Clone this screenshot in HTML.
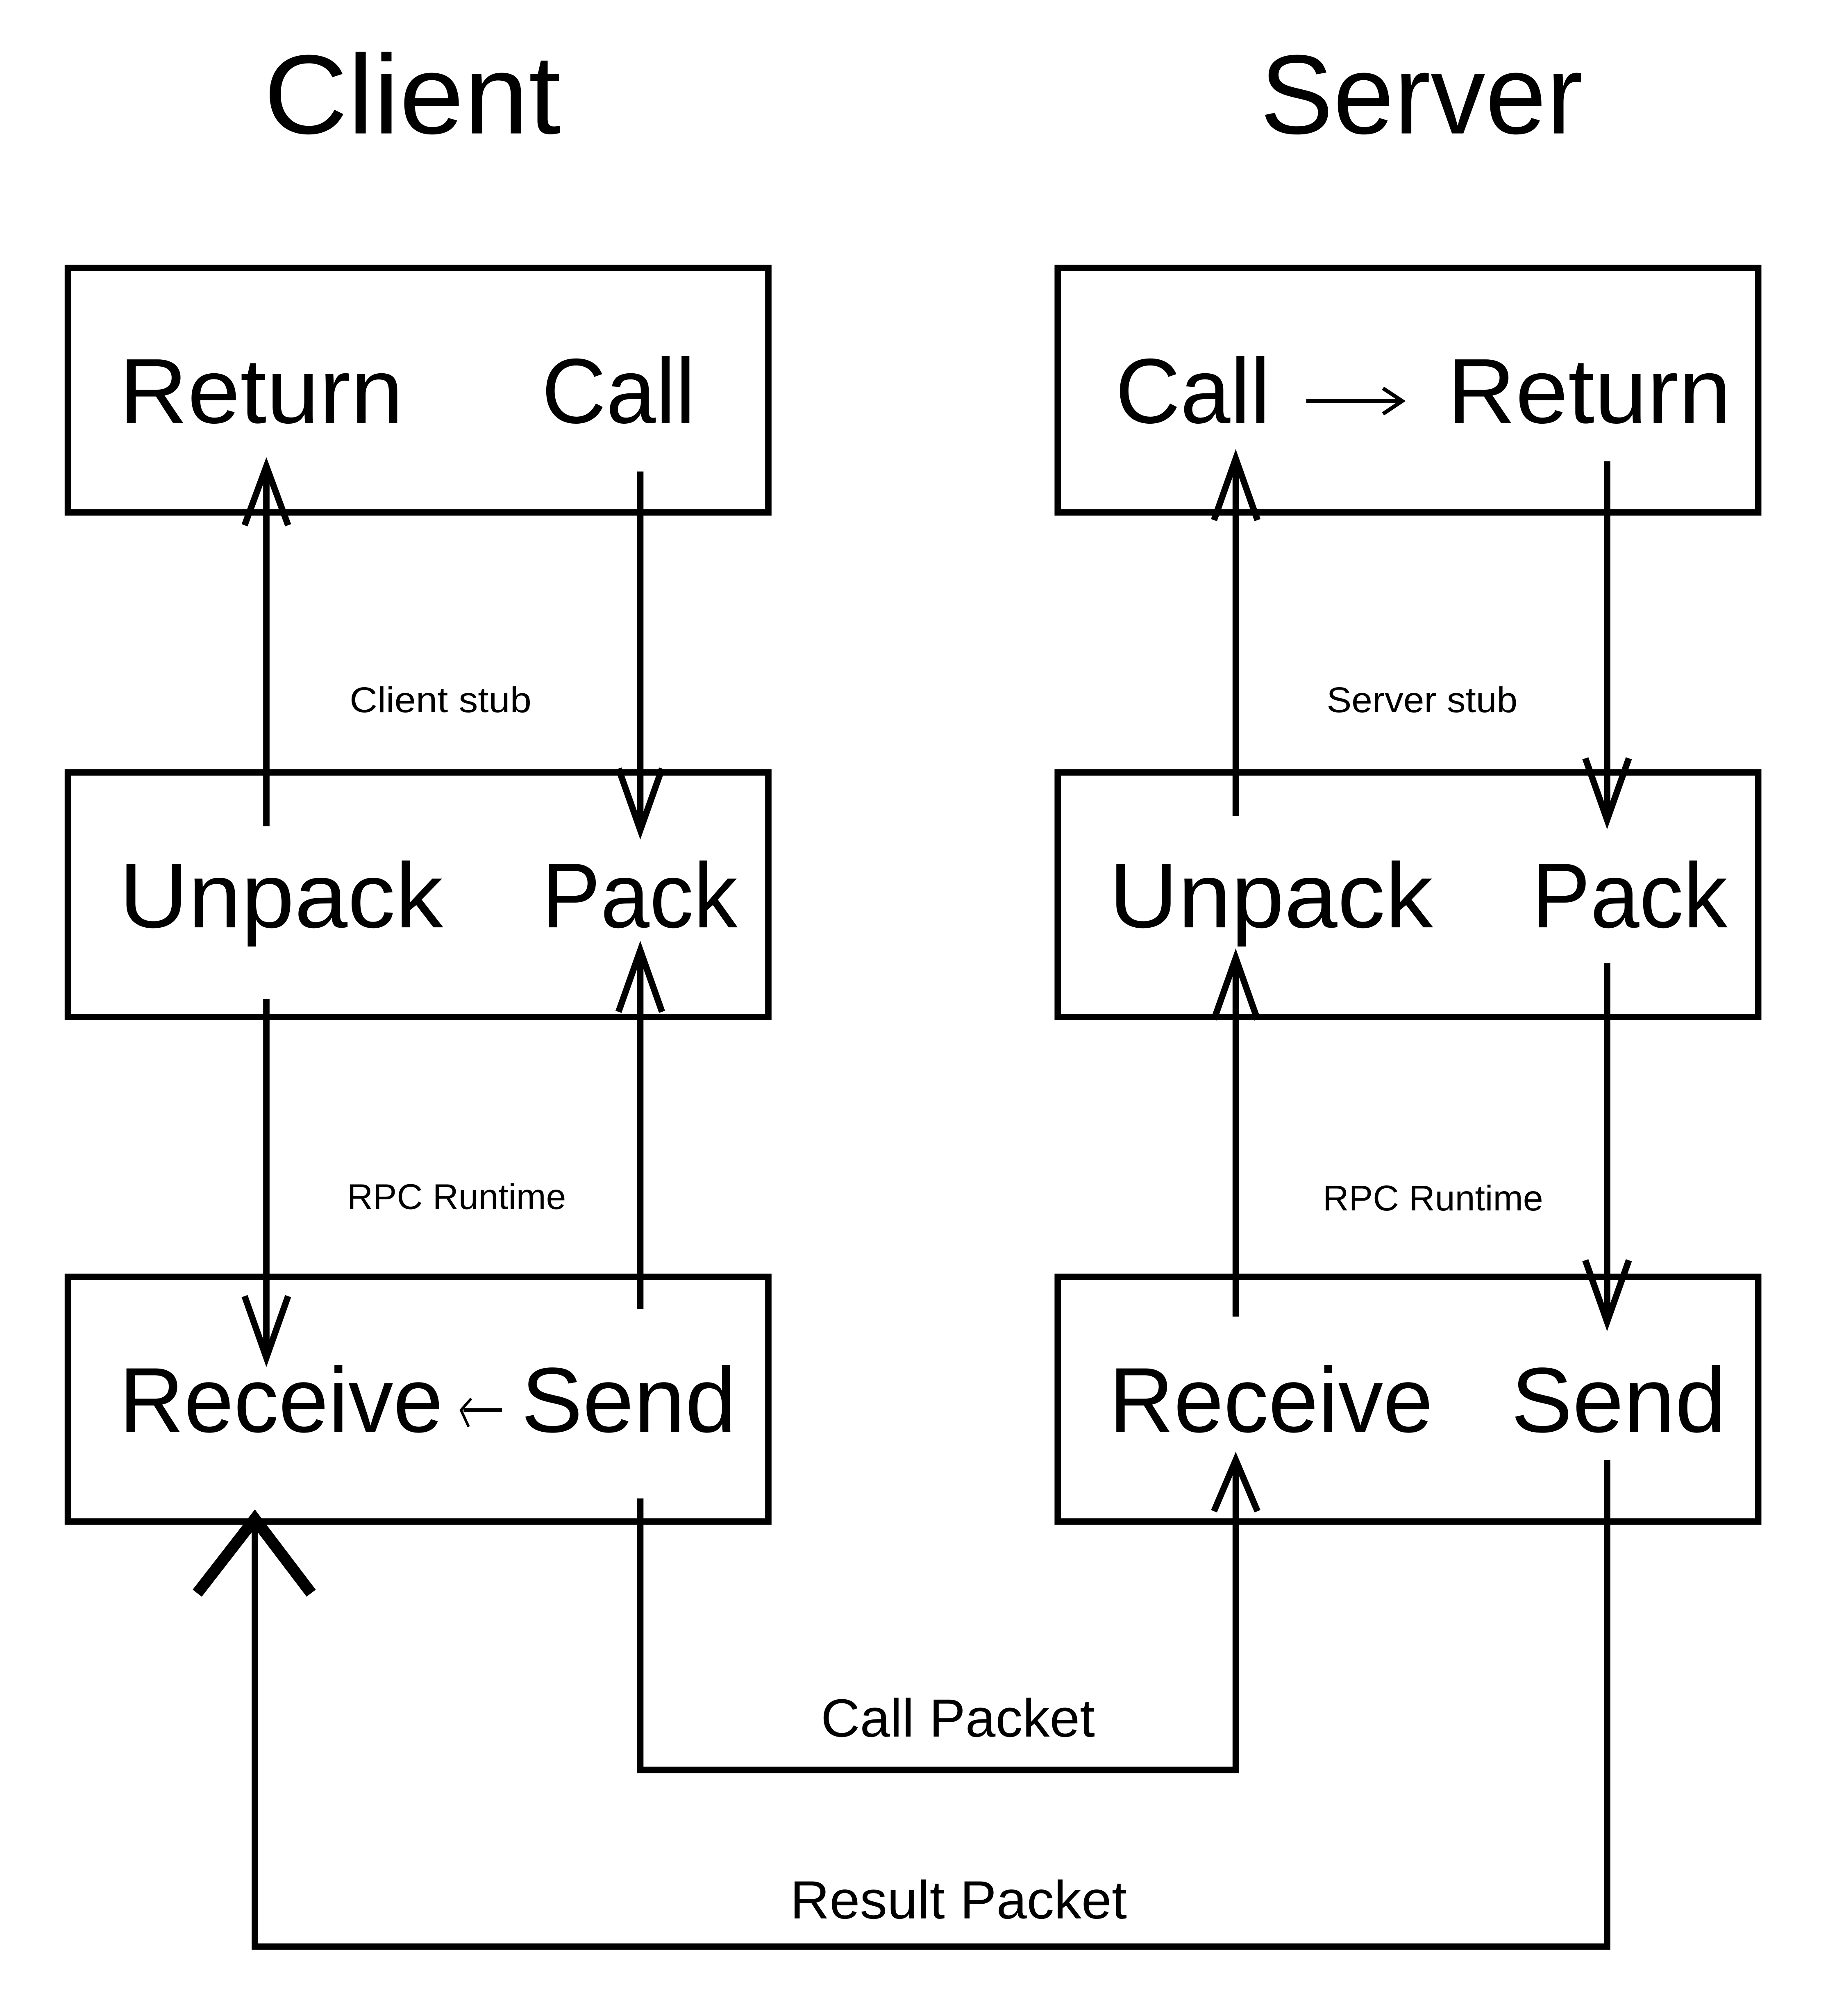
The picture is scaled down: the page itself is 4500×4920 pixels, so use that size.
<!DOCTYPE html>
<html><head><meta charset="utf-8"><style>
html,body{margin:0;padding:0;background:#fff;}
svg{display:block;}
text{font-family:"Liberation Sans",sans-serif;fill:#000;}
</style></head><body>
<svg width="4500" height="4920" viewBox="0 0 1440 1574" xmlns="http://www.w3.org/2000/svg">
<rect width="1440" height="1574" fill="#fff"/>
<text x="206" y="104" font-size="88" textLength="232" lengthAdjust="spacingAndGlyphs">Client</text>
<text x="984" y="104" font-size="88" textLength="252" lengthAdjust="spacingAndGlyphs">Server</text>
<g fill="none" stroke="#000" stroke-width="5">
<rect x="53" y="209" width="547" height="191"/>
<rect x="53" y="603" width="547" height="191"/>
<rect x="53" y="997" width="547" height="191"/>
<rect x="826" y="209" width="547" height="191"/>
<rect x="826" y="603" width="547" height="191"/>
<rect x="826" y="997" width="547" height="191"/>
</g>
<g font-size="72">
<text x="93" y="330" textLength="222" lengthAdjust="spacingAndGlyphs">Return</text>
<text x="423" y="330" textLength="120" lengthAdjust="spacingAndGlyphs">Call</text>
<text x="93" y="724" textLength="253" lengthAdjust="spacingAndGlyphs">Unpack</text>
<text x="423" y="724" textLength="153" lengthAdjust="spacingAndGlyphs">Pack</text>
<text x="93" y="1118" textLength="253" lengthAdjust="spacingAndGlyphs">Receive</text>
<text x="407" y="1118" textLength="168" lengthAdjust="spacingAndGlyphs">Send</text>
<text x="871" y="330" textLength="121" lengthAdjust="spacingAndGlyphs">Call</text>
<text x="1130" y="330" textLength="222" lengthAdjust="spacingAndGlyphs">Return</text>
<text x="866" y="724" textLength="253" lengthAdjust="spacingAndGlyphs">Unpack</text>
<text x="1196" y="724" textLength="153" lengthAdjust="spacingAndGlyphs">Pack</text>
<text x="866" y="1118" textLength="253" lengthAdjust="spacingAndGlyphs">Receive</text>
<text x="1180" y="1118" textLength="168" lengthAdjust="spacingAndGlyphs">Send</text>
</g>
<g font-size="28">
<text x="273" y="556" textLength="142" lengthAdjust="spacingAndGlyphs">Client stub</text>
<text x="1036" y="556" textLength="149" lengthAdjust="spacingAndGlyphs">Server stub</text>
<text x="271" y="944" textLength="171" lengthAdjust="spacingAndGlyphs">RPC Runtime</text>
<text x="1033" y="945" textLength="172" lengthAdjust="spacingAndGlyphs">RPC Runtime</text>
</g>
<g font-size="42">
<text x="641" y="1356" textLength="214" lengthAdjust="spacingAndGlyphs">Call Packet</text>
<text x="617" y="1498" textLength="263" lengthAdjust="spacingAndGlyphs">Result Packet</text>
</g>
<g fill="none" stroke="#000" stroke-width="5">
<!-- server call->return arrow -->
<line x1="1020" y1="313" x2="1093" y2="313" stroke-width="3"/>
<path d="M1080 303 L1095 313 L1080 323" stroke-width="3"/>
<!-- small arrow between receive/send -->
<line x1="362" y1="1101" x2="392" y2="1101" stroke-width="3"/>
<path d="M368 1092 L360 1101 L366 1114" stroke-width="2"/>
<!-- client stub -->
<line x1="208" y1="645" x2="208" y2="366"/>
<path d="M191 410 L208 364 L225 410"/>
<line x1="500" y1="368" x2="500" y2="648"/>
<path d="M483 600 L500 648 L517 600"/>
<!-- client runtime -->
<line x1="208" y1="780" x2="208" y2="1060"/>
<path d="M191 1012 L208 1060 L225 1012"/>
<line x1="500" y1="1022" x2="500" y2="742"/>
<path d="M483 790 L500 742 L517 790"/>
<!-- server stub -->
<line x1="965" y1="637" x2="965" y2="358"/>
<path d="M948 406 L965 358 L982 406"/>
<line x1="1255" y1="360" x2="1255" y2="640"/>
<path d="M1238 592 L1255 640 L1272 592"/>
<!-- server runtime -->
<line x1="965" y1="1028" x2="965" y2="748"/>
<path d="M948 796 L965 748 L982 796"/>
<line x1="1255" y1="752" x2="1255" y2="1032"/>
<path d="M1238 984 L1255 1032 L1272 984"/>
<!-- call packet -->
<path d="M500 1170 L500 1382 L965 1382 L965 1142"/>
<path d="M948 1180 L965 1140 L982 1180"/>
<!-- result packet -->
<path d="M1255 1140 L1255 1520 L199 1520 L199 1186"/>
<path d="M154 1244 L199 1186 L243 1244" stroke-width="9"/>
</g>
</svg>
</body></html>
